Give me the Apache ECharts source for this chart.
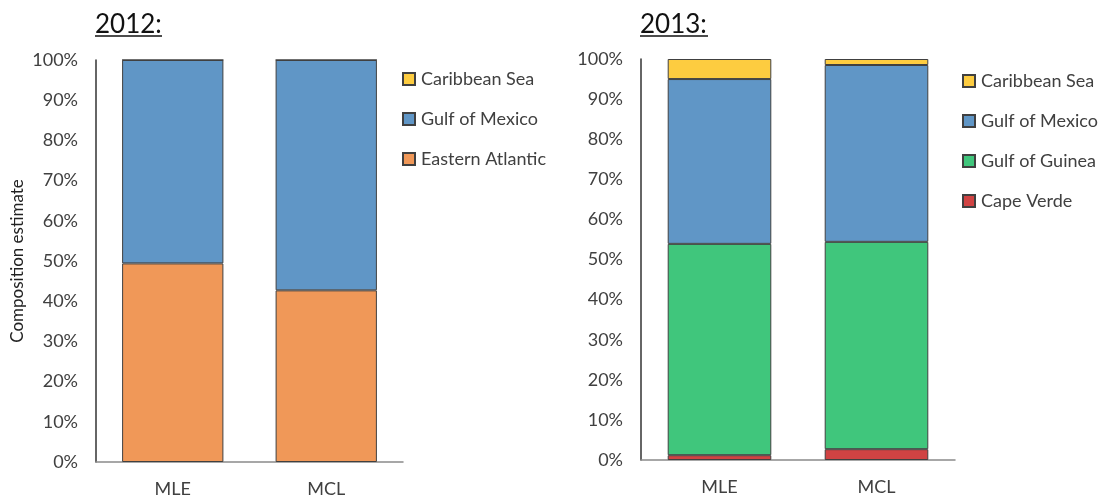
<!DOCTYPE html>
<html>
<head>
<meta charset="utf-8">
<script src="https://cdn.jsdelivr.net/npm/echarts@6/dist/echarts.min.js"></script>
<style>
  html, body { margin: 0; padding: 0; background: #fff; }
  #chart { width: 1111px; height: 501px; }
</style>
</head>
<body>
<div id="chart"></div>
<script>
// categories
const methods = ['MLE', 'MCL'];

// 2012 composition (%)
const carib2012 = [0, 0];
const gulfMexico2012 = [50.6, 57.3];
const eastAtlantic2012 = [49.4, 42.7];

// 2013 composition (%)
const capeVerde2013 = [1.2, 2.7];
const gulfGuinea2013 = [52.7, 51.7];
const gulfMexico2013 = [41.1, 44.1];
const carib2013 = [5.0, 1.5];

const legend2012 = ['Caribbean Sea', 'Gulf of Mexico', 'Eastern Atlantic'];
const legend2013 = ['Caribbean Sea', 'Gulf of Mexico', 'Gulf of Guinea', 'Cape Verde'];

const colors = {
    'Caribbean Sea': '#FDCC40',
    'Gulf of Mexico': '#6096C6',
    'Eastern Atlantic': '#F09858',
    'Gulf of Guinea': '#40C67C',
    'Cape Verde': '#D04343'
};

const font = 'Lato, "Open Sans", sans-serif';
const txt = '#404040';

function bar(name, data, idx, stack) {
    return {
        type: 'bar',
        name: name,
        data: data,
        stack: stack,
        xAxisIndex: idx,
        yAxisIndex: idx,
        barWidth: '66%',
        itemStyle: {
            color: colors[name],
            borderColor: '#404040',
            borderWidth: 1
        }
    };
}

function xAx(idx) {
    return {
        type: 'category',
        gridIndex: idx,
        data: methods,
        axisTick: { show: false },
        axisLine: { lineStyle: { color: '#8a8a8a', width: 1.5 } },
        axisLabel: { color: txt, fontSize: 18, fontFamily: font, margin: 18 }
    };
}

function yAx(idx, withName) {
    const ax = {
        type: 'value',
        gridIndex: idx,
        min: 0,
        max: 100,
        interval: 10,
        splitLine: { show: false },
        axisTick: { show: false },
        axisLine: { show: true, lineStyle: { color: '#333', width: 1.5 } },
        axisLabel: { color: txt, fontSize: 18, fontFamily: font, margin: 18, formatter: '{value}%' }
    };
    if (withName) {
        ax.name = 'Composition estimate';
        ax.nameLocation = 'middle';
        ax.nameRotate = 90;
        ax.nameGap = 70;
        ax.nameTextStyle = { color: '#222', fontSize: 17, fontFamily: font };
    }
    return ax;
}

function legendBox(names, left, top) {
    return {
        data: names,
        orient: 'vertical',
        left: left,
        top: top,
        padding: 0,
        itemWidth: 12,
        itemHeight: 12,
        itemGap: 20,
        icon: 'rect',
        selectedMode: false,
        textStyle: { color: txt, fontSize: 18, fontFamily: font, lineHeight: 20, padding: [0, 0, 0, 1] }
    };
}

const chart = echarts.init(document.getElementById('chart'));

const option = {
    animation: false,
    backgroundColor: '#fff',
    title: [
        { text: '2012:', left: 95, top: 12, padding: 0, textStyle: { fontSize: 26, fontWeight: 'normal', color: '#111', fontFamily: font } },
        { text: '2013:', left: 640, top: 12, padding: 0, textStyle: { fontSize: 26, fontWeight: 'normal', color: '#111', fontFamily: font } }
    ],
    graphic: [
        { type: 'line', shape: { x1: 95, y1: 36, x2: 162, y2: 36 }, style: { stroke: '#111', lineWidth: 1.5 } },
        { type: 'line', shape: { x1: 640, y1: 36, x2: 708, y2: 36 }, style: { stroke: '#111', lineWidth: 1.5 } }
    ],
    legend: [
        legendBox(legend2012, 402, 69),
        legendBox(legend2013, 962, 71)
    ],
    grid: [
        { left: 96, right: 708, top: 60, bottom: 39 },
        { left: 641, right: 156, top: 59, bottom: 41 }
    ],
    xAxis: [xAx(0), xAx(1)],
    yAxis: [yAx(0, true), yAx(1, false)],
    series: [
        bar('Eastern Atlantic', eastAtlantic2012, 0, 'a'),
        bar('Gulf of Mexico', gulfMexico2012, 0, 'a'),
        bar('Caribbean Sea', carib2012, 0, 'a'),
        bar('Cape Verde', capeVerde2013, 1, 'b'),
        bar('Gulf of Guinea', gulfGuinea2013, 1, 'b'),
        bar('Gulf of Mexico', gulfMexico2013, 1, 'b'),
        bar('Caribbean Sea', carib2013, 1, 'b')
    ]
};

chart.setOption(option);
</script>
</body>
</html>
